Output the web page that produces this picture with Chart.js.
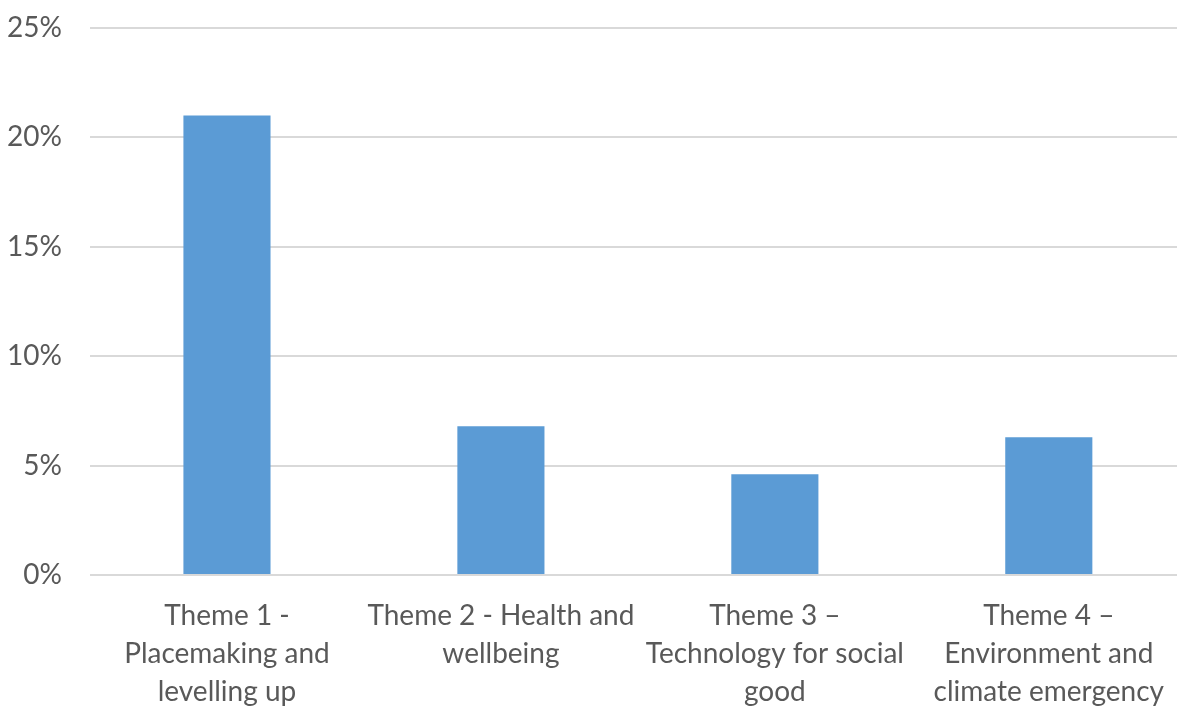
<!DOCTYPE html>
<html>
<head>
<meta charset="utf-8">
<script src="https://cdn.jsdelivr.net/npm/chart.js@4"></script>
<style>
  html, body { margin: 0; padding: 0; background: #ffffff; overflow: hidden; }
  #wrap { width: 1186px; height: 706px; }
</style>
</head>
<body>
<div id="wrap"><canvas id="chart"></canvas></div>
<script>
// themes and their share (%)
const themes = [
    ["Theme 1 -", "Placemaking and", "levelling up"],
    ["Theme 2 - Health and", "wellbeing"],
    ["Theme 3 \u2013", "Technology for social", "good"],
    ["Theme 4 \u2013", "Environment and", "climate emergency"]
];
const shares = [21.0, 6.8, 4.6, 6.3];
const yTicks = [0, 5, 10, 15, 20, 25];

const ctx = document.getElementById("chart").getContext("2d");

const chart = new Chart(ctx, {
    type: "bar",
    data: {
        labels: themes,
        datasets: [
            {
                data: shares,
                backgroundColor: "#5b9bd5",
                borderWidth: 0,
                barPercentage: 0.53,
                categoryPercentage: 0.6
            }
        ]
    },
    options: {
        responsive: true,
        maintainAspectRatio: false,
        animation: false,
        layout: {
            padding: { top: 28, left: 0, right: 0, bottom: 0 }
        },
        plugins: {
            legend: { display: false },
            tooltip: { enabled: false }
        },
        scales: {
            x: {
                grid: { display: false, drawTicks: false },
                border: { display: false },
                afterFit: (axis) => { axis.height = 131; },
                ticks: {
                    color: "#595959",
                    font: { family: "Lato", size: 28, lineHeight: 1.36 },
                    maxRotation: 0,
                    autoSkip: false,
                    padding: 22
                }
            },
            y: {
                min: 0,
                max: 25,
                afterBuildTicks: (axis) => {
                    axis.ticks = yTicks.map(v => ({ value: v }));
                },
                afterFit: (axis) => {
                    axis.width = 90;
                    axis.paddingTop = 0;
                    axis.paddingBottom = 0;
                },
                grid: {
                    color: "#d9d9d9",
                    lineWidth: 2,
                    drawTicks: false
                },
                border: { display: false },
                ticks: {
                    color: "#595959",
                    font: { family: "Lato", size: 28 },
                    padding: 28,
                    callback: (v) => v + "%"
                }
            }
        }
    }
});
</script>
</body>
</html>
